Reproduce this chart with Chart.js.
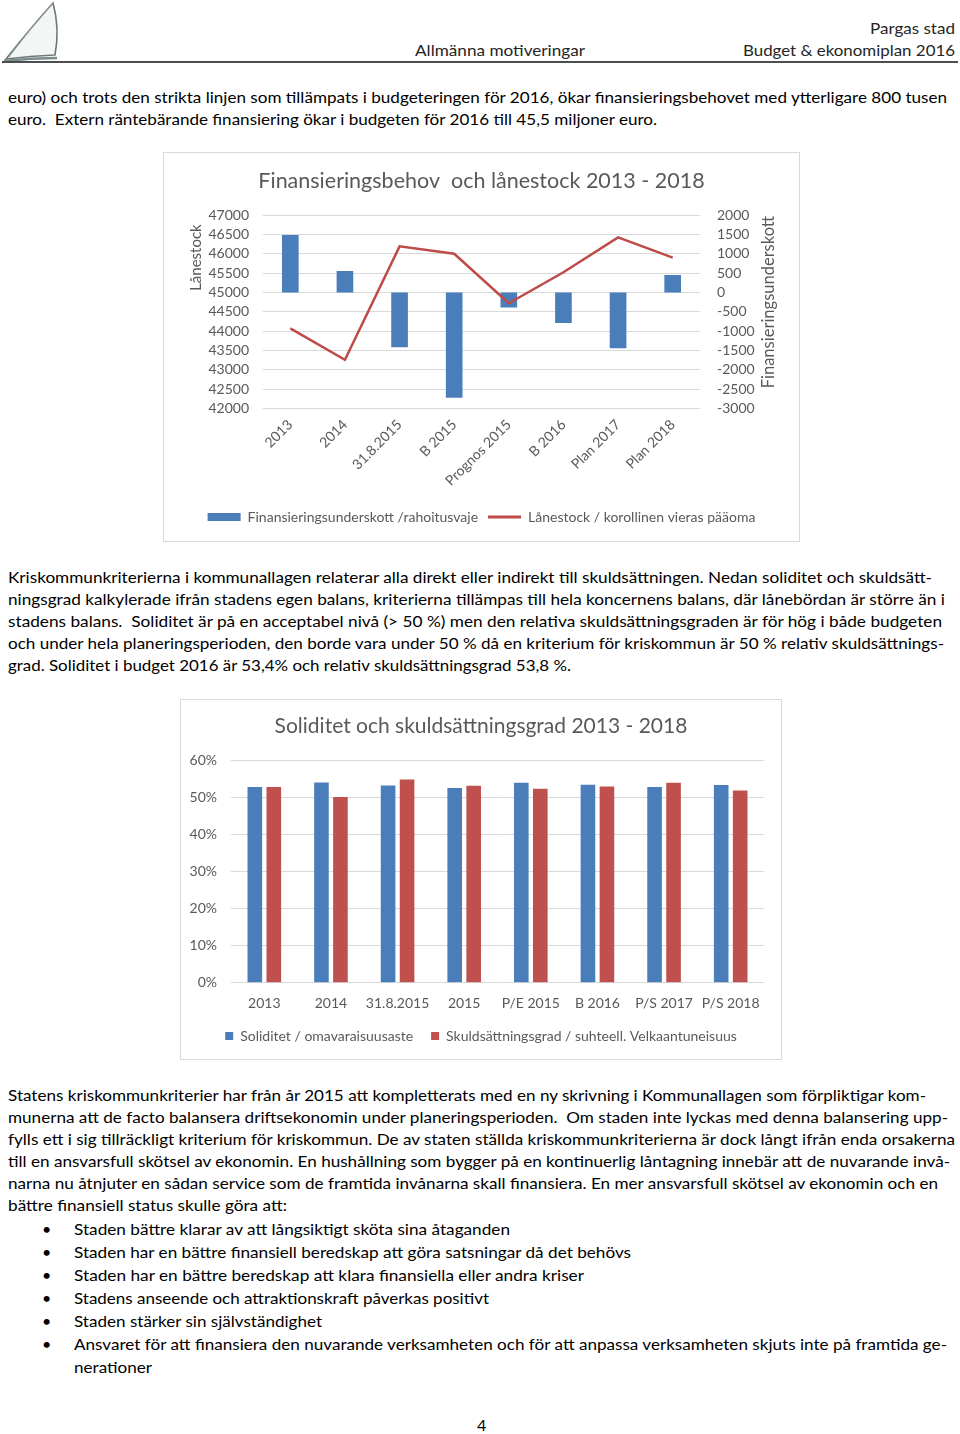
<!DOCTYPE html>
<html lang="sv">
<head>
<meta charset="utf-8">
<title>Allmänna motiveringar – Budget & ekonomiplan 2016</title>
<script src="https://cdn.jsdelivr.net/npm/chart.js@4.4.0/dist/chart.umd.min.js"></script>
<style>
    html, body { margin: 0; padding: 0; background: #fff; }
    body { width: 960px; height: 1434px; position: relative; overflow: hidden; font-family: Lato, 'Open Sans', sans-serif; color: #000; }
    .ln { position: absolute; white-space: pre; font-size: 16px; line-height: 22px; height: 22px; transform-origin: 0 50%; }
    .hd { color: #262626; }
    .box { position: absolute; border: 1px solid #d9d9d9; box-sizing: border-box; background: #fff; }
    #rule { position: absolute; left: 2px; top: 61px; width: 956px; height: 2px; background: #4d4d4d; }
    #logo { position: absolute; left: 0; top: 0; }
</style>
</head>
<body>

<svg id="logo" width="62" height="66" viewBox="0 0 62 66">
    <path d="M53 3 Q34 24 6 59 Q30 56 55 55 Q60 28 53 3 Z" fill="#f4f6f6" stroke="#6f7878" stroke-width="1.6"/>
    <path d="M53 3 Q30 28 9 57" fill="none" stroke="#9aa5a5" stroke-width="1"/>
    <path d="M4 61 Q30 58 57 58" fill="none" stroke="#7b8a8a" stroke-width="2.5"/>
</svg>
<div id="rule"></div>

<div class="box" style="left:163px; top:152px; width:637px; height:390px;">
    <canvas id="finansChart"></canvas>
</div>

<div class="box" style="left:180px; top:699px; width:602px; height:361px;">
    <canvas id="soliditetChart"></canvas>
</div>

<div id="text"></div>

<script>
//#region === Data ===

// Finansieringsbehov och lånestock 2013 - 2018
const kategorier = ['2013', '2014', '31.8.2015', 'B 2015', 'Prognos 2015', 'B 2016', 'Plan 2017', 'Plan 2018'];
const underskott = [1480, 550, -1420, -2720, -390, -790, -1440, 450];      // höger axel
const lanestock = [44070, 43260, 46190, 46000, 44720, 45520, 46420, 45900]; // vänster axel
const lanestockAxel = { min: 42000, max: 47000, steg: 500 };
const underskottAxel = { min: -3000, max: 2000, steg: 500 };

// Soliditet och skuldsättningsgrad 2013 - 2018 (%)
const perioder = ['2013', '2014', '31.8.2015', '2015', 'P/E 2015', 'B 2016', 'P/S 2017', 'P/S 2018'];
const soliditet = [52.8, 54.0, 53.2, 52.5, 53.9, 53.4, 52.8, 53.3];
const skuldsattning = [52.8, 50.1, 54.8, 53.1, 52.3, 52.9, 53.9, 51.8];
const procentAxel = { min: 0, max: 60, steg: 10 };

//#endregion

//#region === Sidans text ===

// [x, y (mitten av raden), bredd, text]
const rader = [
    [870, 28, 85, 'Pargas stad', 'hd'],
    [415, 50, 170, 'Allmänna motiveringar', 'hd'],
    [743, 50, 212, 'Budget & ekonomiplan 2016', 'hd'],

    [8, 97, 939, 'euro) och trots den strikta linjen som tillämpats i budgeteringen för 2016, ökar finansieringsbehovet med ytterligare 800 tusen'],
    [8, 119, 649, 'euro.  Extern räntebärande finansiering ökar i budgeten för 2016 till 45,5 miljoner euro.'],

    [8, 577, 924, 'Kriskommunkriterierna i kommunallagen relaterar alla direkt eller indirekt till skuldsättningen. Nedan soliditet och skuldsätt-'],
    [8, 599, 937, 'ningsgrad kalkylerade ifrån stadens egen balans, kriterierna tillämpas till hela koncernens balans, där lånebördan är större än i'],
    [8, 621, 934, 'stadens balans.  Soliditet är på en acceptabel nivå (> 50 %) men den relativa skuldsättningsgraden är för hög i både budgeten'],
    [8, 643, 936, 'och under hela planeringsperioden, den borde vara under 50 % då en kriterium för kriskommun är 50 % relativ skuldsättnings-'],
    [8, 665, 563, 'grad. Soliditet i budget 2016 är 53,4% och relativ skuldsättningsgrad 53,8 %.'],

    [8, 1095, 918, 'Statens kriskommunkriterier har från år 2015 att kompletterats med en ny skrivning i Kommunallagen som förpliktigar kom-'],
    [8, 1117, 940, 'munerna att de facto balansera driftsekonomin under planeringsperioden.  Om staden inte lyckas med denna balansering upp-'],
    [8, 1139, 947, 'fylls ett i sig tillräckligt kriterium för kriskommun. De av staten ställda kriskommunkriterierna är dock långt ifrån enda orsakerna'],
    [8, 1161, 942, 'till en ansvarsfull skötsel av ekonomin. En hushållning som bygger på en kontinuerlig låntagning innebär att de nuvarande invå-'],
    [8, 1183, 930, 'narna nu åtnjuter en sådan service som de framtida invånarna skall finansiera. En mer ansvarsfull skötsel av ekonomin och en'],
    [8, 1205, 279, 'bättre finansiell status skulle göra att:'],

    [74, 1229, 436, 'Staden bättre klarar av att långsiktigt sköta sina åtaganden'],
    [74, 1252, 557, 'Staden har en bättre finansiell beredskap att göra satsningar då det behövs'],
    [74, 1275, 510, 'Staden har en bättre beredskap att klara finansiella eller andra kriser'],
    [74, 1298, 415, 'Stadens anseende och attraktionskraft påverkas positivt'],
    [74, 1321, 248, 'Staden stärker sin självständighet'],
    [74, 1344, 873, 'Ansvaret för att finansiera den nuvarande verksamheten och för att anpassa verksamheten skjuts inte på framtida ge-'],
    [74, 1367, 78, 'nerationer'],

    [477, 1425, 0, '4']
];
const punkter = [1229, 1252, 1275, 1298, 1321, 1344];

function skrivText() {
    const holder = document.getElementById('text');
    rader.forEach(([x, y, w, txt, cls]) => {
        const el = document.createElement('div');
        el.className = 'ln' + (cls ? ' ' + cls : '');
        el.style.left = x + 'px';
        el.style.top = (y - 11) + 'px';
        el.textContent = txt;
        holder.appendChild(el);
        // Anpassa radens bredd till originalet
        if (w > 0) {
            const nat = el.getBoundingClientRect().width;
            if (nat > 0) el.style.transform = `scaleX(${w / nat})`;
        }
    });
    punkter.forEach(y => {
        const b = document.createElement('div');
        b.className = 'ln';
        b.style.left = '42px';
        b.style.top = (y - 11) + 'px';
        b.textContent = '•';
        holder.appendChild(b);
    });
}

//#endregion

//#region === Diagram ===

Chart.defaults.font.family = "Lato, 'Open Sans', sans-serif";
Chart.defaults.color = '#595959';
Chart.defaults.animation = false;

const GRA = '#595959';
const BLA = '#4a7ebb';
const ROD = '#c0504d';
const LINJE = '#be4b48';

// Rotade axeltitlar (båda läses nerifrån och upp)
const axelTitlar = {
    id: 'axelTitlar',
    afterDraw(chart, args, opts) {
        const { ctx, chartArea } = chart;
        const h = chartArea.bottom - chartArea.top;
        ctx.save();
        ctx.fillStyle = GRA;
        ctx.font = "15px Lato, 'Open Sans', sans-serif";
        ctx.textAlign = 'center';
        ctx.textBaseline = 'middle';
        ctx.translate(chartArea.left - 67, chartArea.top + h * 0.22);
        ctx.rotate(-Math.PI / 2);
        ctx.fillText(opts.vanster, 0, 0);
        ctx.restore();

        ctx.save();
        ctx.fillStyle = GRA;
        ctx.font = "16.5px Lato, 'Open Sans', sans-serif";
        ctx.textAlign = 'center';
        ctx.textBaseline = 'middle';
        ctx.translate(chartArea.right + 69, chartArea.top + h * 0.45);
        ctx.rotate(-Math.PI / 2);
        ctx.fillText(opts.hoger, 0, 0);
        ctx.restore();
    }
};

function renderFinansChart() {
    const ctx = document.getElementById('finansChart').getContext('2d');
    new Chart(ctx, {
        type: 'bar',
        data: {
            labels: kategorier,
            datasets: [{
                label: 'Finansieringsunderskott /rahoitusvaje',
                data: underskott,
                yAxisID: 'y1',
                backgroundColor: BLA,
                borderWidth: 0,
                categoryPercentage: 0.5,
                barPercentage: 0.61,
                order: 1
            }, {
                type: 'line',
                label: 'Lånestock / korollinen vieras pääoma',
                data: lanestock,
                yAxisID: 'y',
                borderColor: LINJE,
                backgroundColor: LINJE,
                borderWidth: 2.5,
                pointRadius: 0,
                tension: 0,
                order: 0
            }]
        },
        options: {
            responsive: true,
            maintainAspectRatio: false,
            layout: { padding: { top: 0, left: 0, right: 0, bottom: 7 } },
            scales: {
                x: {
                    grid: { display: false, drawTicks: false },
                    border: { display: false },
                    ticks: { color: GRA, font: { size: 14 }, minRotation: 45, maxRotation: 45, padding: 8 },
                    afterFit: s => { s.height = 91.5; }
                },
                y: {
                    position: 'left',
                    min: lanestockAxel.min,
                    max: lanestockAxel.max,
                    ticks: { stepSize: lanestockAxel.steg, autoSkip: false, color: GRA, font: { size: 14 }, padding: 14, callback: v => String(v) },
                    grid: { color: '#d9d9d9', drawTicks: false },
                    border: { display: false },
                    afterFit: s => { s.width = 99; }
                },
                y1: {
                    position: 'right',
                    min: underskottAxel.min,
                    max: underskottAxel.max,
                    ticks: { stepSize: underskottAxel.steg, autoSkip: false, color: GRA, font: { size: 14 }, padding: 17, callback: v => String(v) },
                    grid: { display: false, drawTicks: false },
                    border: { display: false },
                    afterFit: s => { s.width = 99; }
                }
            },
            plugins: {
                title: {
                    display: true,
                    text: 'Finansieringsbehov  och lånestock 2013 - 2018',
                    color: GRA,
                    font: { size: 21.5, weight: 'normal' },
                    padding: { top: 15, bottom: 21.2 }
                },
                legend: {
                    position: 'bottom',
                    labels: {
                        color: GRA,
                        font: { size: 14 },
                        padding: 10,
                        usePointStyle: true,
                        pointStyleWidth: 33,
                        boxHeight: 8,
                        sort: (a, b) => a.datasetIndex - b.datasetIndex,
                        generateLabels(chart) {
                            const items = Chart.defaults.plugins.legend.labels.generateLabels(chart);
                            items.forEach(it => {
                                const ds = chart.data.datasets[it.datasetIndex];
                                if (ds.type === 'line') {
                                    it.pointStyle = 'line';
                                    it.strokeStyle = ds.borderColor;
                                    it.lineWidth = 3;
                                } else {
                                    it.pointStyle = 'rect';
                                    it.fillStyle = ds.backgroundColor;
                                    it.lineWidth = 0;
                                }
                            });
                            return items;
                        }
                    }
                },
                tooltip: { enabled: false },
                axelTitlar: { vanster: 'Lånestock', hoger: 'Finansieringsunderskott' }
            }
        },
        plugins: [axelTitlar]
    });
}

function renderSoliditetChart() {
    const ctx = document.getElementById('soliditetChart').getContext('2d');
    new Chart(ctx, {
        type: 'bar',
        data: {
            labels: perioder,
            datasets: [{
                label: 'Soliditet / omavaraisuusaste',
                data: soliditet,
                backgroundColor: BLA,
                borderWidth: 0,
                categoryPercentage: 0.57,
                barPercentage: 0.77
            }, {
                label: 'Skuldsättningsgrad / suhteell. Velkaantuneisuus',
                data: skuldsattning,
                backgroundColor: ROD,
                borderWidth: 0,
                categoryPercentage: 0.57,
                barPercentage: 0.77
            }]
        },
        options: {
            responsive: true,
            maintainAspectRatio: false,
            layout: { padding: { top: 0, left: 0, right: 0, bottom: 6 } },
            scales: {
                x: {
                    grid: { display: false, drawTicks: false },
                    border: { display: false },
                    ticks: { color: GRA, font: { size: 14 }, maxRotation: 0, padding: 12 },
                    afterFit: s => { s.height = 28.2; }
                },
                y: {
                    min: procentAxel.min,
                    max: procentAxel.max,
                    ticks: { stepSize: procentAxel.steg, autoSkip: false, color: GRA, font: { size: 14 }, padding: 14, callback: v => v + '%' },
                    grid: { color: '#d9d9d9', drawTicks: false },
                    border: { display: false },
                    afterFit: s => { s.width = 50; }
                },
                // tom marginal till höger så att legenden centreras över hela rutan
                hogerMarginal: {
                    position: 'right',
                    min: 0,
                    max: 1,
                    ticks: { display: false },
                    grid: { display: false, drawTicks: false },
                    border: { display: false },
                    afterFit: s => { s.width = 17; }
                }
            },
            plugins: {
                title: {
                    display: true,
                    text: 'Soliditet och skuldsättningsgrad 2013 - 2018',
                    color: GRA,
                    font: { size: 21, weight: 'normal' },
                    padding: { top: 14, bottom: 21 }
                },
                legend: {
                    position: 'bottom',
                    labels: { color: GRA, font: { size: 14 }, padding: 18, boxWidth: 8, boxHeight: 8 }
                },
                tooltip: { enabled: false }
            }
        }
    });
}

//#endregion

document.addEventListener('DOMContentLoaded', () => {
    skrivText();
    renderFinansChart();
    renderSoliditetChart();
});
</script>
</body>
</html>
